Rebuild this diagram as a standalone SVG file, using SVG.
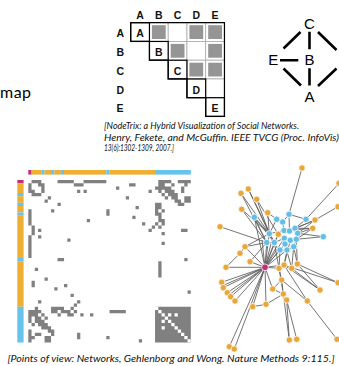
<svg xmlns="http://www.w3.org/2000/svg" width="339" height="366" viewBox="0 0 339 366">
<style>
.lbl{font-family:"Liberation Sans",Arial,sans-serif;font-size:10.5px;font-weight:bold;fill:#111}
.glbl{font-family:"Liberation Sans",Arial,sans-serif;font-size:15px;fill:#000;text-anchor:middle}
.cap{font-family:Lato,"Open Sans",sans-serif;font-style:italic;font-size:9.5px;fill:#111}
.cell{fill:#fff;stroke:#aaa;stroke-width:0.8}
.fillc{fill:#959595}
.diag{fill:none;stroke:#000;stroke-width:1.2}
.gl{stroke:#000;stroke-width:2.6;fill:none}
.edge{stroke:#5c5c5c;stroke-width:0.85;fill:none}
.or{fill:#E9A63A;stroke:#fff;stroke-width:0.8}
.bl{fill:#63BDE6;stroke:#fff;stroke-width:0.8}
.mg{fill:#C42C7C;stroke:#fff;stroke-width:0.8}
</style>
<rect width="339" height="366" fill="#fff"/>

<text x="0" y="98" font-family="Lato,'Open Sans',sans-serif" font-size="16" textLength="31" fill="#000">map</text>

<!-- NodeTrix matrix -->
<g id="nodetrix-matrix">
  <text class="lbl" x="140" y="19.3" text-anchor="middle">A</text>
  <text class="lbl" x="158.8" y="19.3" text-anchor="middle">B</text>
  <text class="lbl" x="177.6" y="19.3" text-anchor="middle">C</text>
  <text class="lbl" x="196.3" y="19.3" text-anchor="middle">D</text>
  <text class="lbl" x="215" y="19.3" text-anchor="middle">E</text>
  <text class="lbl" x="116.5" y="37.2">A</text>
  <text class="lbl" x="116.5" y="56">B</text>
  <text class="lbl" x="116.5" y="74.7">C</text>
  <text class="lbl" x="116.5" y="93.5">D</text>
  <text class="lbl" x="116.5" y="112.2">E</text>
  <rect class="cell" x="149.45" y="22.7" width="18.75" height="18.75"/>
  <rect class="cell" x="168.2" y="22.7" width="18.75" height="18.75"/>
  <rect class="cell" x="186.95" y="22.7" width="18.75" height="18.75"/>
  <rect class="cell" x="205.7" y="22.7" width="18.75" height="18.75"/>
  <rect class="cell" x="168.2" y="41.45" width="18.75" height="18.75"/>
  <rect class="cell" x="186.95" y="41.45" width="18.75" height="18.75"/>
  <rect class="cell" x="205.7" y="41.45" width="18.75" height="18.75"/>
  <rect class="cell" x="186.95" y="60.2" width="18.75" height="18.75"/>
  <rect class="cell" x="205.7" y="60.2" width="18.75" height="18.75"/>
  <rect class="cell" x="205.7" y="78.95" width="18.75" height="18.75"/>
  <rect class="fillc" x="151.9" y="25.2" width="13.8" height="13.8"/>
  <rect class="fillc" x="189.4" y="25.2" width="13.8" height="13.8"/>
  <rect class="fillc" x="208.2" y="25.2" width="13.8" height="13.8"/>
  <rect class="fillc" x="170.7" y="43.9" width="13.8" height="13.8"/>
  <rect class="fillc" x="208.2" y="43.9" width="13.8" height="13.8"/>
  <rect class="fillc" x="189.4" y="62.7" width="13.8" height="13.8"/>
  <rect class="fillc" x="208.2" y="62.7" width="13.8" height="13.8"/>
  <rect class="diag" x="130.7" y="22.7" width="18.75" height="18.75"/>
  <rect class="diag" x="149.45" y="41.45" width="18.75" height="18.75"/>
  <rect class="diag" x="168.2" y="60.2" width="18.75" height="18.75"/>
  <rect class="diag" x="186.95" y="78.95" width="18.75" height="18.75"/>
  <rect class="diag" x="205.7" y="97.7" width="18.75" height="18.75"/>
  <path class="diag" d="M130.7 22.7H224.45V116.45H205.7V97.7H186.95V78.95H168.2V60.2H149.45V41.45H130.7Z"/>
  <text class="lbl" x="140.1" y="37.2" text-anchor="middle">A</text>
  <text class="lbl" x="158.8" y="56" text-anchor="middle">B</text>
  <text class="lbl" x="177.6" y="74.7" text-anchor="middle">C</text>
  <text class="lbl" x="196.3" y="93.5" text-anchor="middle">D</text>
  <text class="lbl" x="215.1" y="112.2" text-anchor="middle">E</text>
</g>

<!-- small graph -->
<g id="small-graph-edges">
  <path class="gl" d="M309.5 31.7V49.3M309.5 68.3V85.5M280 60.3H298.3M300.5 32L283.5 48.5M283.5 68.5L301 85.5M318 32L336.5 50M336.5 68.5L318 86"/>
</g>
<g id="g-C"><text class="glbl" x="309.5" y="29.3">C</text></g>
<g id="g-B"><text class="glbl" x="309.5" y="65.3">B</text></g>
<g id="g-E"><text class="glbl" x="273.3" y="65.3">E</text></g>
<g id="g-A"><text class="glbl" x="309.5" y="101.7">A</text></g>

<!-- caption 1 -->
<text class="cap" x="104" y="129.3" textLength="195" lengthAdjust="spacingAndGlyphs">[NodeTrix: a Hybrid Visualization of Social Networks.</text>
<text class="cap" x="104" y="140.5" textLength="235" lengthAdjust="spacingAndGlyphs">Henry, Fekete, and McGuffin. IEEE TVCG (Proc. InfoVis)</text>
<text class="cap" x="104" y="151" textLength="70" lengthAdjust="spacingAndGlyphs">13(6):1302-1309, 2007.]</text>

<!-- adjacency heat matrix -->
<g id="matrix-topbar" transform="translate(28.3 170) scale(3.25 1)">
  <rect x="0" y="0" width="1" height="4.6" fill="#C42C7C"/>
  <rect x="1" y="0" width="3" height="4.6" fill="#EEAF33"/>
  <rect x="4" y="0" width="1" height="4.6" fill="#67C3EB"/>
  <rect x="5" y="0" width="2" height="4.6" fill="#EEAF33"/>
  <rect x="7" y="0" width="1" height="4.6" fill="#67C3EB"/>
  <rect x="8" y="0" width="2" height="4.6" fill="#EEAF33"/>
  <rect x="10" y="0" width="1" height="4.6" fill="#67C3EB"/>
  <rect x="11" y="0" width="13" height="4.6" fill="#EEAF33"/>
  <rect x="24" y="0" width="1" height="4.6" fill="#67C3EB"/>
  <rect x="25" y="0" width="14" height="4.6" fill="#EEAF33"/>
  <rect x="39" y="0" width="11" height="4.6" fill="#67C3EB"/>
</g>
<g id="matrix-leftbar" transform="translate(17.3 180) scale(1 3.25)">
  <rect x="0" y="0" width="6.3" height="1" fill="#C42C7C"/>
  <rect x="0" y="1" width="6.3" height="3" fill="#EEAF33"/>
  <rect x="0" y="4" width="6.3" height="1" fill="#67C3EB"/>
  <rect x="0" y="5" width="6.3" height="2" fill="#EEAF33"/>
  <rect x="0" y="7" width="6.3" height="1" fill="#67C3EB"/>
  <rect x="0" y="8" width="6.3" height="2" fill="#EEAF33"/>
  <rect x="0" y="10" width="6.3" height="1" fill="#67C3EB"/>
  <rect x="0" y="11" width="6.3" height="13" fill="#EEAF33"/>
  <rect x="0" y="24" width="6.3" height="1" fill="#67C3EB"/>
  <rect x="0" y="25" width="6.3" height="14" fill="#EEAF33"/>
  <rect x="0" y="39" width="6.3" height="11" fill="#67C3EB"/>
</g>
<g id="matrix-cells" transform="translate(28.3 180) scale(3.25)">
  <path fill="#808080" d="M1 0h3v1h-3zM9 0h5v1h-5zM17 0h7v1h-7zM40 0h4v1h-4zM46 0h4v1h-4zM0 1h1v3h-1zM0 9h1v5h-1zM0 17h1v7h-1zM0 40h1v4h-1zM0 46h1v4h-1z
  M3 1h2v1h-2zM14 1h3v1h-3zM31 1h2v1h-2zM40 1h2v1h-2zM44 1h1v1h-1zM48 1h1v1h-1zM1 3h1v2h-1zM1 14h1v3h-1zM1 31h1v2h-1zM1 40h1v2h-1zM1 44h1v1h-1zM1 48h1v1h-1z
  M4 2h1v1h-1zM27 2h1v1h-1zM39 2h5v1h-5zM47 2h1v1h-1zM2 4h1v1h-1zM2 27h1v1h-1zM2 39h1v5h-1zM2 47h1v1h-1z
  M4 3h1v1h-1zM15 3h1v1h-1zM17 3h1v1h-1zM37 3h1v1h-1zM40 3h1v1h-1zM42 3h3v1h-3zM47 3h1v1h-1zM3 4h1v1h-1zM3 15h1v1h-1zM3 17h1v1h-1zM3 37h1v1h-1zM3 40h1v1h-1zM3 42h1v3h-1zM3 47h1v1h-1z
  M41 4h1v1h-1zM43 4h3v1h-3zM4 41h1v1h-1zM4 43h1v3h-1z
  M6 5h1v1h-1zM30 5h1v1h-1zM42 5h1v1h-1zM44 5h2v1h-2zM48 5h2v1h-2zM5 6h1v1h-1zM5 30h1v1h-1zM5 42h1v1h-1zM5 44h1v2h-1zM5 48h1v2h-1z
  M45 6h2v1h-2zM48 6h2v1h-2zM6 45h1v2h-1zM6 48h1v2h-1z
  M9 7h1v1h-1zM39 7h2v1h-2zM46 7h2v1h-2zM7 9h1v1h-1zM7 39h1v2h-1zM7 46h1v2h-1z
  M33 8h1v1h-1zM39 8h2v1h-2zM8 33h1v1h-1zM8 39h1v2h-1z
  M24 9h1v1h-1zM39 9h1v1h-1zM41 9h1v1h-1zM9 24h1v1h-1zM9 39h1v1h-1zM9 41h1v1h-1z
  M24 10h1v1h-1zM39 10h2v1h-2zM10 24h1v1h-1zM10 39h1v2h-1z
  M32 11h1v1h-1zM40 11h1v1h-1zM11 32h1v1h-1zM11 40h1v1h-1z
  M18 12h1v1h-1zM40 12h2v1h-2zM12 18h1v1h-1zM12 40h1v2h-1z
  M35 13h1v1h-1zM39 13h1v1h-1zM41 13h1v1h-1zM13 35h1v1h-1zM13 39h1v1h-1zM13 41h1v1h-1z
  M38 14h1v1h-1zM40 14h1v1h-1zM14 38h1v1h-1zM14 40h1v1h-1z
  M37 15h1v1h-1zM47 15h2v1h-2zM15 37h1v1h-1zM15 47h1v2h-1z
  M41 16h1v1h-1zM16 41h1v1h-1zM41 19h1v1h-1zM19 41h1v1h-1zM48 24h1v1h-1zM24 48h1v1h-1z
  M40 25h1v5h-1zM25 40h5v1h-5zM49 34h1v1h-1zM34 49h1v1h-1z
  M39 39h11v11h-11z"/>
  <path fill="#fff" d="M39 39h1v1h-1zM40 40h1v1h-1zM41 41h1v1h-1zM42 42h1v1h-1zM43 43h1v1h-1zM44 44h1v1h-1zM45 45h1v1h-1zM46 46h1v1h-1zM47 47h1v1h-1zM48 48h1v1h-1zM49 49h1v1h-1zM43 41h1v1h-1zM41 43h1v1h-1zM45 41h1v1h-1zM41 45h1v1h-1z"/>
</g>

<!-- network -->
<g id="network-edges">
  <path class="edge" d="
  M265 267.3L221.7 282.3M265 267.3L223.3 287.7M265 267.3L227.3 292.7M265 267.3L230.7 296.7M265 267.3L235 301
  M265 267.3L224 285M265 267.3L229 295
  M265 267.3L226 267.3M265 267.3L250 261.7M265 267.3L245 246.7
  M265 267.3L229.3 346.7M265 267.3L234.3 349M265 267.3L252.7 306.7M265 267.3L266 304.3M265 267.3L272.7 289
  M265 267.3L279 268.3M265 267.3L284 265
  M265 267.3L266.7 242.5M265 267.3L274.3 242.5M265 267.3L269.3 233.7M265 267.3L280 250M265 267.3L278.3 234.3M265 267.3L284.3 238.3M265 267.3L285 244M265 267.3L287 250M265 267.3L254.3 217.3
  M265 267.3L272 240M265 267.3L277 246M265 267.3L262 240
  M226 267.3L240 253.3L245 246.7M245 246.7L266.7 242.5M245 246.7L269.3 233.7M250 261.7L266.7 242.5
  M220 226.7L266.7 242.5
  M248.3 189L269.3 233.7M248.3 189L274.3 242.5M241 193.3L269.3 233.7M241 193.3L266.7 242.5M256.7 199.3L269.3 233.7M256.7 199.3L278.3 234.3
  M241.7 209.3L266.7 242.5M241.7 209.3L269.3 233.7M267.7 212.7L269.3 233.7M267.7 212.7L276.7 219.3
  M254.3 217.3L269.3 233.7M254.3 217.3L266.7 242.5M254.3 217.3L274.3 242.5
  M302 168L289 214.3M339 183.3L306 219.3M338 206.7L315 220
  M315 220L295 228.3M315 220L297.7 233.3M312.7 228.3L297.7 233.3M312.7 228.3L295 228.3M312.7 228.3L284 230.5M315 220L289.5 231M312.7 228.3L296.3 239.3
  M323.3 236.7L296.3 239.3M323.3 236.7L297.7 233.3M306 219.3L295 228.3M306 219.3L289 214.3
  M276.7 219.3L282.7 222L284 230.5L289.5 231L295 228.3L297.7 233.3M289 214.3L289.5 231M269.3 233.7L274.3 242.5L284.3 238.3L290.3 240.3L296.3 239.3
  M266.7 242.5L274.3 242.5M285 244L280 250L287 250L293.7 246.7L296.3 239.3M284.3 238.3L285 244M269.3 233.7L284 230.5M278.3 234.3L284 230.5M278.3 234.3L274.3 242.5M297.7 233.3L296.3 239.3M282.7 222L289 214.3M276.7 219.3L269.3 233.7
  M279 268.3L280 250M284 265L287 250M291.7 268.3L293.7 246.7M297.3 264L296.3 239.3M279 268.3L274.3 242.5M291.7 268.3L285 244M284 265L290.3 240.3M297.3 264L293.7 246.7
  M297.3 264L338 282.7M291.7 268.3L320 290M284 265L307.3 301M281.7 280L307.3 301M320 290L297.3 264M320 290L284 265M338 282.7L284 265
  M281.7 280L279 268.3M281.7 280L272.7 289M281.7 280L283.3 294M279 268.3L283.3 294
  M266 304.3L252.7 306.7M266 304.3L283.3 294M283.3 294L286.7 300M286.7 300L289.3 340M286.7 300L296.7 339.3M283.3 294L289.3 340
  M307.3 301L337 339.3M272.7 289L283.3 294"/>
</g>
<g id="network-nodes">
  <circle class="or" cx="248.3" cy="189" r="3.2"/>
  <circle class="or" cx="241" cy="193.3" r="3.2"/>
  <circle class="or" cx="256.7" cy="199.3" r="3.2"/>
  <circle class="or" cx="241.7" cy="209.3" r="3.2"/>
  <circle class="or" cx="267.7" cy="212.7" r="3.2"/>
  <circle class="or" cx="220" cy="226.7" r="3.2"/>
  <circle class="or" cx="315" cy="220" r="3.2"/>
  <circle class="or" cx="312.7" cy="228.3" r="3.2"/>
  <circle class="or" cx="338" cy="206.7" r="3.2"/>
  <circle class="or" cx="339" cy="183.3" r="3.2"/>
  <circle class="or" cx="302" cy="168" r="3.2"/>
  <circle class="bl" cx="254.3" cy="217.3" r="3.2"/>
  <circle class="bl" cx="276.7" cy="219.3" r="3.2"/>
  <circle class="bl" cx="282.7" cy="222" r="3.2"/>
  <circle class="bl" cx="289" cy="214.3" r="3.2"/>
  <circle class="bl" cx="306" cy="219.3" r="3.2"/>
  <circle class="bl" cx="323.3" cy="236.7" r="3.2"/>
  <circle class="bl" cx="269.3" cy="233.7" r="3.2"/>
  <circle class="bl" cx="284" cy="230.5" r="3.2"/>
  <circle class="bl" cx="289.5" cy="231" r="3.2"/>
  <circle class="bl" cx="295" cy="228.3" r="3.2"/>
  <circle class="bl" cx="297.7" cy="233.3" r="3.2"/>
  <circle class="bl" cx="266.7" cy="242.5" r="3.2"/>
  <circle class="bl" cx="274.3" cy="242.5" r="3.2"/>
  <circle class="bl" cx="284.3" cy="238.3" r="3.2"/>
  <circle class="bl" cx="290.3" cy="240.3" r="3.2"/>
  <circle class="bl" cx="296.3" cy="239.3" r="3.2"/>
  <circle class="bl" cx="285" cy="244" r="3.2"/>
  <circle class="bl" cx="280" cy="250" r="3.2"/>
  <circle class="bl" cx="287" cy="250" r="3.2"/>
  <circle class="bl" cx="293.7" cy="246.7" r="3.2"/>
  <circle class="or" cx="278.3" cy="234.3" r="3.2"/>
  <circle class="or" cx="245" cy="246.7" r="3.2"/>
  <circle class="or" cx="240" cy="253.3" r="3.2"/>
  <circle class="or" cx="250" cy="261.7" r="3.2"/>
  <circle class="or" cx="226" cy="267.3" r="3.2"/>
  <circle class="or" cx="279" cy="268.3" r="3.2"/>
  <circle class="or" cx="284" cy="265" r="3.2"/>
  <circle class="or" cx="291.7" cy="268.3" r="3.2"/>
  <circle class="or" cx="297.3" cy="264" r="3.2"/>
  <circle class="or" cx="281.7" cy="280" r="3.2"/>
  <circle class="or" cx="272.7" cy="289" r="3.2"/>
  <circle class="or" cx="283.3" cy="294" r="3.2"/>
  <circle class="or" cx="286.7" cy="300" r="3.2"/>
  <circle class="or" cx="266" cy="304.3" r="3.2"/>
  <circle class="or" cx="252.7" cy="306.7" r="3.2"/>
  <circle class="or" cx="307.3" cy="301" r="3.2"/>
  <circle class="or" cx="320" cy="290" r="3.2"/>
  <circle class="or" cx="338" cy="282.7" r="3.2"/>
  <circle class="or" cx="337" cy="339.3" r="3.2"/>
  <circle class="or" cx="221.7" cy="282.3" r="3.2"/>
  <circle class="or" cx="223.3" cy="287.7" r="3.2"/>
  <circle class="or" cx="227.3" cy="292.7" r="3.2"/>
  <circle class="or" cx="230.7" cy="296.7" r="3.2"/>
  <circle class="or" cx="235" cy="301" r="3.2"/>
  <circle class="or" cx="229.3" cy="346.7" r="3.2"/>
  <circle class="or" cx="234.3" cy="349" r="3.2"/>
  <circle class="or" cx="289.3" cy="340" r="3.2"/>
  <circle class="or" cx="296.7" cy="339.3" r="3.2"/>
  <circle class="mg" cx="265" cy="267.3" r="3.4"/>
</g>

<text class="cap" x="7.5" y="361.7" textLength="327" lengthAdjust="spacingAndGlyphs">[Points of view: Networks, Gehlenborg and Wong. Nature Methods 9:115.]</text>
</svg>
